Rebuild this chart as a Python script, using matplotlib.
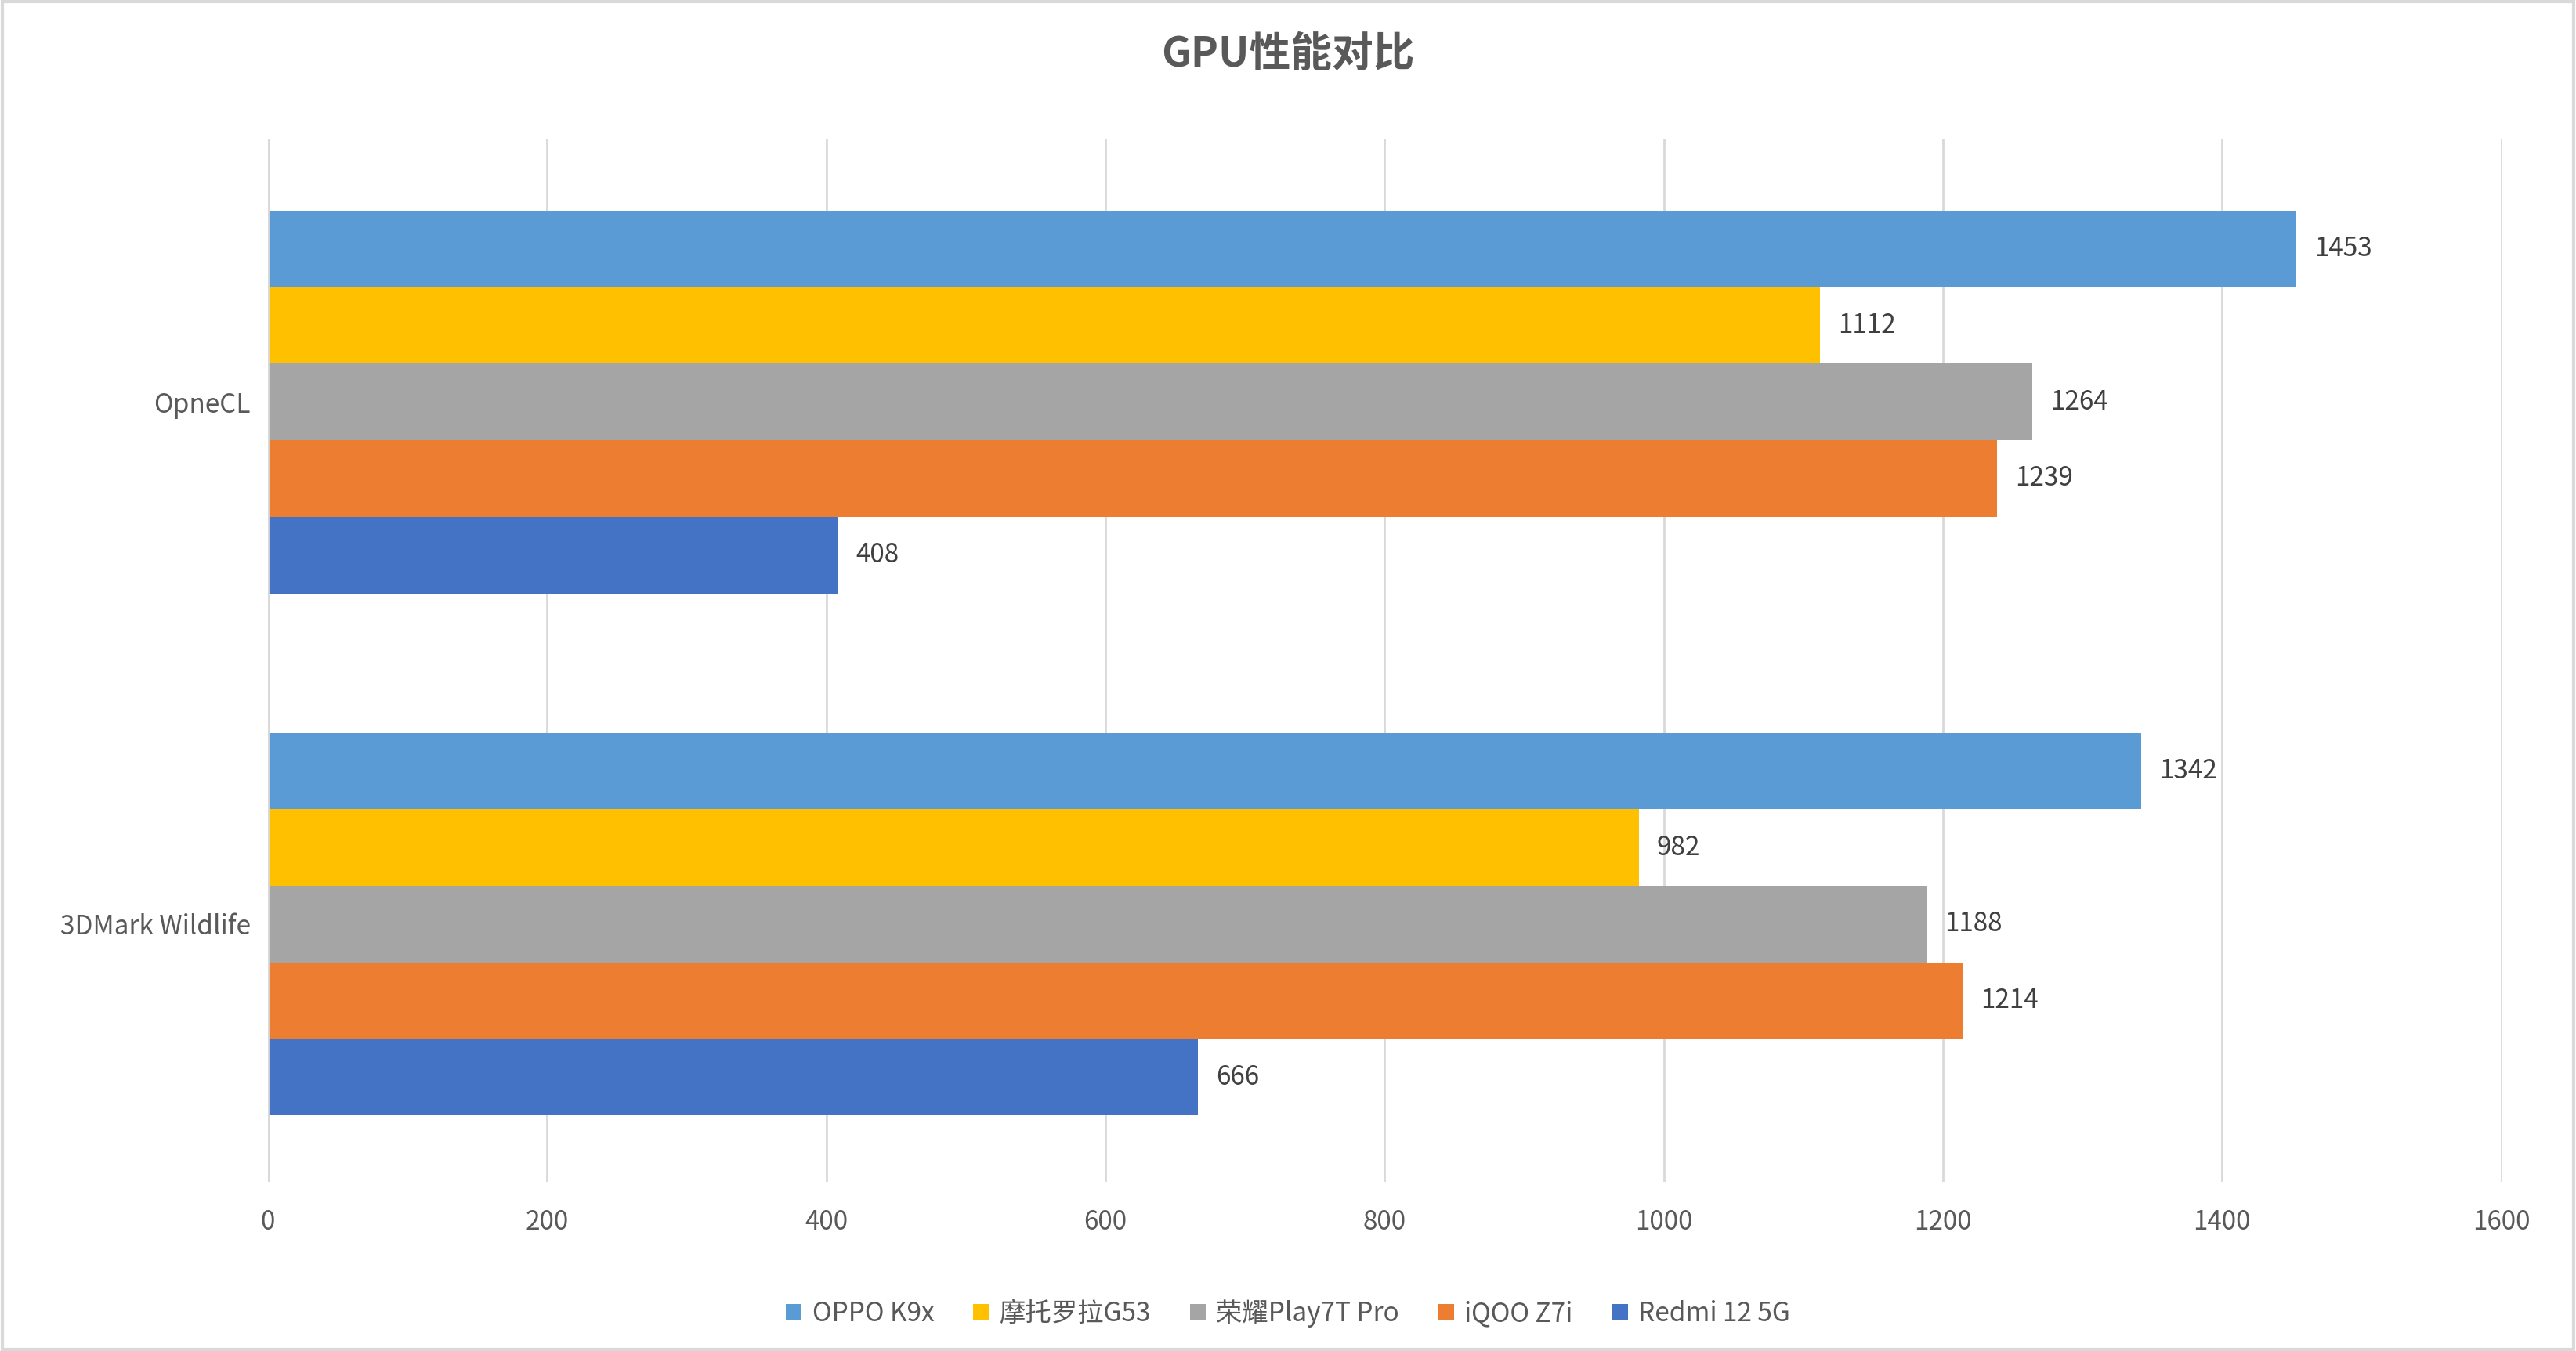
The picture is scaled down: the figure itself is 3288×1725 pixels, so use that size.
import matplotlib
matplotlib.use('Agg')
import matplotlib.pyplot as plt
import numpy as np

plt.rcParams['font.family'] = 'Noto Sans CJK SC'

categories = ['3DMark Wildlife', 'OpneCL']
series_names = ['OPPO K9x', '摩托罗拉G53', '荣耀Play7T Pro', 'iQOO Z7i', 'Redmi 12 5G']
values = {
    'OPPO K9x': [1342, 1453],
    '摩托罗拉G53': [982, 1112],
    '荣耀Play7T Pro': [1188, 1264],
    'iQOO Z7i': [1214, 1239],
    'Redmi 12 5G': [666, 408],
}
colors = ['#5B9BD5', '#FFC000', '#A5A5A5', '#ED7D31', '#4472C4']

fig = plt.figure(figsize=(16.44, 8.625), dpi=200)
ax = fig.add_axes([0.104, 0.125, 0.867, 0.772])

h = 0.1466
y = np.arange(len(categories))
for i, (name, c) in enumerate(zip(series_names, colors)):
    pos = y + (2 - i) * h
    bars = ax.barh(pos, values[name], height=h, color=c, label=name, zorder=3)
    for b, v in zip(bars, values[name]):
        ax.text(v + 13, b.get_y() + h / 2, str(v), va='center', ha='left',
                fontsize=12, color='#404040')

ax.set_xlim(0, 1600)
ax.set_ylim(-0.494, 1.503)
ax.set_xticks(range(0, 1601, 200))
ax.set_yticks(y)
ax.set_yticklabels(categories)
ax.tick_params(axis='both', length=0, labelsize=12, labelcolor='#595959', pad=8)
ax.tick_params(axis='x', pad=12)
ax.grid(axis='x', color='#D9D9D9', linewidth=1, zorder=0)
for s in ax.spines.values():
    s.set_visible(False)
ax.axvline(0, color='#D9D9D9', linewidth=1, zorder=4)

fig.suptitle('GPU性能对比', y=0.975, fontsize=19, fontweight='bold', color='#595959')
leg = fig.legend(loc='lower center', bbox_to_anchor=(0.5, 0.0), ncol=5, frameon=False,
                 fontsize=12, handlelength=0.6, handleheight=0.6, columnspacing=1.5,
                 handletextpad=0.4)
for t in leg.get_texts():
    t.set_color('#595959')

fig.patches.append(plt.Rectangle((0.001, 0.001), 0.998, 0.998, transform=fig.transFigure,
                                 fill=False, edgecolor='#D9D9D9', linewidth=1.5))
fig.savefig('out.png', dpi=200)
